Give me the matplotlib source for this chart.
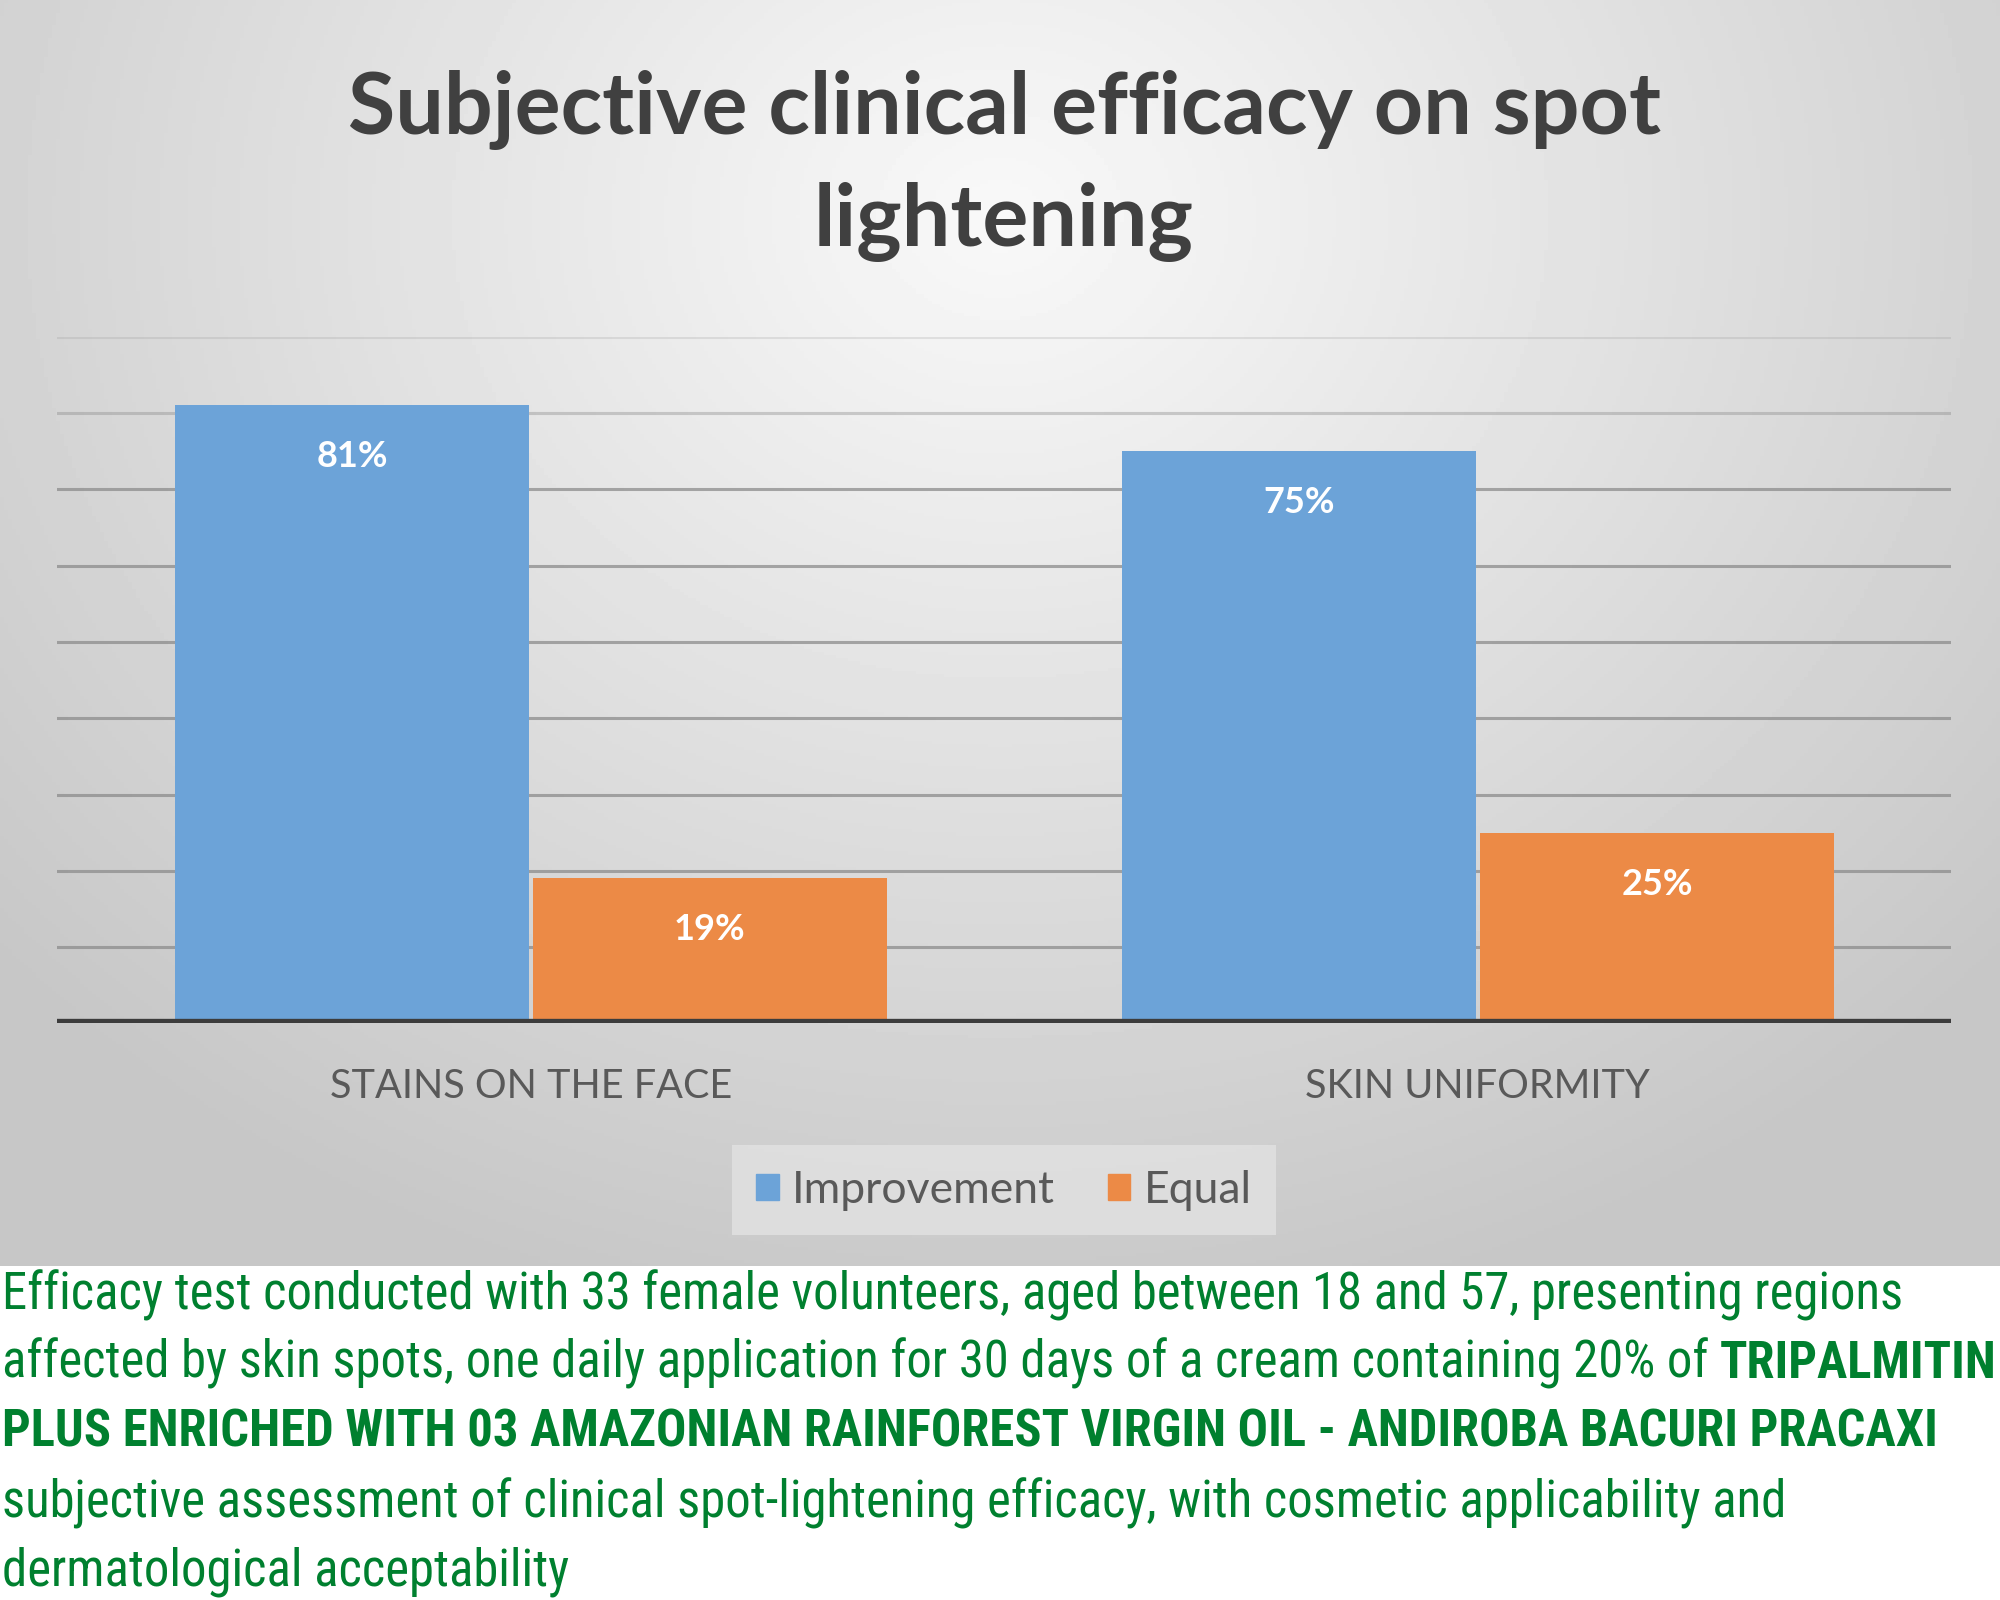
import numpy as np
import matplotlib.pyplot as plt
from matplotlib.patches import Patch
from matplotlib import font_manager

categories = ['STAINS ON THE FACE', 'SKIN UNIFORMITY']
improvement = [81, 75]
equal = [19, 25]
series_names = ['Improvement', 'Equal']
title_lines = ['Subjective clinical efficacy on spot', 'lightening']
note_lines = [
    [('Efficacy test conducted with 33 female volunteers, aged between 18 and 57, presenting regions', 'normal')],
    [('affected by skin spots, one daily application for 30 days of a cream containing 20% of ', 'normal'),
     ('TRIPALMITIN', 'bold')],
    [('PLUS ENRICHED WITH 03 AMAZONIAN RAINFOREST VIRGIN OIL - ANDIROBA BACURI PRACAXI', 'bold')],
    [('subjective assessment of clinical spot-lightening efficacy, with cosmetic applicability and', 'normal')],
    [('dermatological acceptability', 'normal')],
]

blue = '#6ca3d8'
orange = '#ec8a46'
green = '#00802f'
gray_txt = '#595959'

# pick a narrow font for the note if one is installed
names = set(f.name for f in font_manager.fontManager.ttflist)
note_font = 'Roboto'
for cand in ['Roboto Condensed', 'Liberation Sans Narrow', 'Open Sans Condensed',
             'Noto Sans Condensed', 'DejaVu Sans Condensed']:
    if cand in names:
        note_font = cand
        break

fig = plt.figure(figsize=(20, 16), dpi=100)

# grey chart background with lighter centre
bg = fig.add_axes([0, 0.2089, 1, 0.7911])
yy, xx = np.mgrid[0:1:400j, 0:1:500j]
r = np.sqrt(((xx - 0.5) / 0.75) ** 2 + ((yy - 0.17) / 1.0) ** 2)
shade = np.clip(0.975 - 0.22 * r, 0.78, 1)
bg.imshow(shade, cmap='gray', vmin=0, vmax=1, aspect='auto', extent=[0, 1, 1, 0])
bg.set_xlim(0, 1)
bg.set_ylim(1, 0)
bg.axis('off')

ax = fig.add_axes([0.0287, 0.3604, 0.947, 0.4291])
ax.patch.set_alpha(0)
x = np.arange(len(categories))
w = 0.374
b1 = ax.bar(x - w / 2 - 0.002, improvement, w, color=blue, zorder=3, label=series_names[0])
b2 = ax.bar(x + w / 2 + 0.002, equal, w, color=orange, zorder=3, label=series_names[1])
ax.set_xlim(-0.5, 1.5)
ax.set_ylim(0, 90)

for v in range(10, 100, 10):
    a = 0.75 if v <= 70 else (0.4 if v == 80 else 0.2)
    ax.axhline(v, color='#8c8c8c', lw=2.2, alpha=a, zorder=1)
ax.axhline(0, color='#3c3c3c', lw=6, zorder=4)

for bars in (b1, b2):
    for rect in bars:
        ax.annotate('%d%%' % rect.get_height(),
                    (rect.get_x() + rect.get_width() / 2, rect.get_height()),
                    xytext=(0, -37), textcoords='offset points',
                    ha='center', va='center', color='white',
                    fontsize=26, fontweight='bold', family='Lato', zorder=5)

for s in ax.spines.values():
    s.set_visible(False)
ax.set_yticks([])
ax.set_xticks(x)
ax.set_xticklabels(categories, fontsize=28.5, color=gray_txt, family='Lato')
ax.tick_params(axis='x', length=0, pad=32)

for i, line in enumerate(title_lines):
    fig.text(0.502, [0.9163, 0.8461][i], line, ha='center', va='baseline',
             fontsize=62, fontweight='bold', color='#404040', family='Lato')

handles = [Patch(color=blue), Patch(color=orange)]
leg = fig.legend(handles, series_names, loc='center', bbox_to_anchor=(0.502, 0.256),
                 prop={'family': 'Lato', 'size': 32}, labelcolor=gray_txt,
                 handlelength=0.5, handleheight=0.5, handletextpad=0.3,
                 columnspacing=1.2, ncol=2, frameon=True, fancybox=False,
                 borderpad=0.55)
leg.get_frame().set_facecolor('#e2e2e2')
leg.get_frame().set_edgecolor('none')

# note text below the chart, size fitted to the width of the first line
renderer = fig.canvas.get_renderer()
probe = fig.text(0, 0, note_lines[0][0][0], fontsize=35, family=note_font)
wpx = probe.get_window_extent(renderer).width
probe.remove()
note_size = min(40, 35 * 1900 / wpx)

baselines = [0.1818, 0.1388, 0.0957, 0.0518, 0.0088]
for yb, parts in zip(baselines, note_lines):
    xpos = 0.001
    for txt, wt in parts:
        t = fig.text(xpos, yb, txt, ha='left', va='baseline', fontsize=note_size,
                     fontweight=wt, color=green, family=note_font)
        xpos = t.get_window_extent(renderer).x1 / fig.bbox.width

fig.savefig('out.png', dpi=100)
